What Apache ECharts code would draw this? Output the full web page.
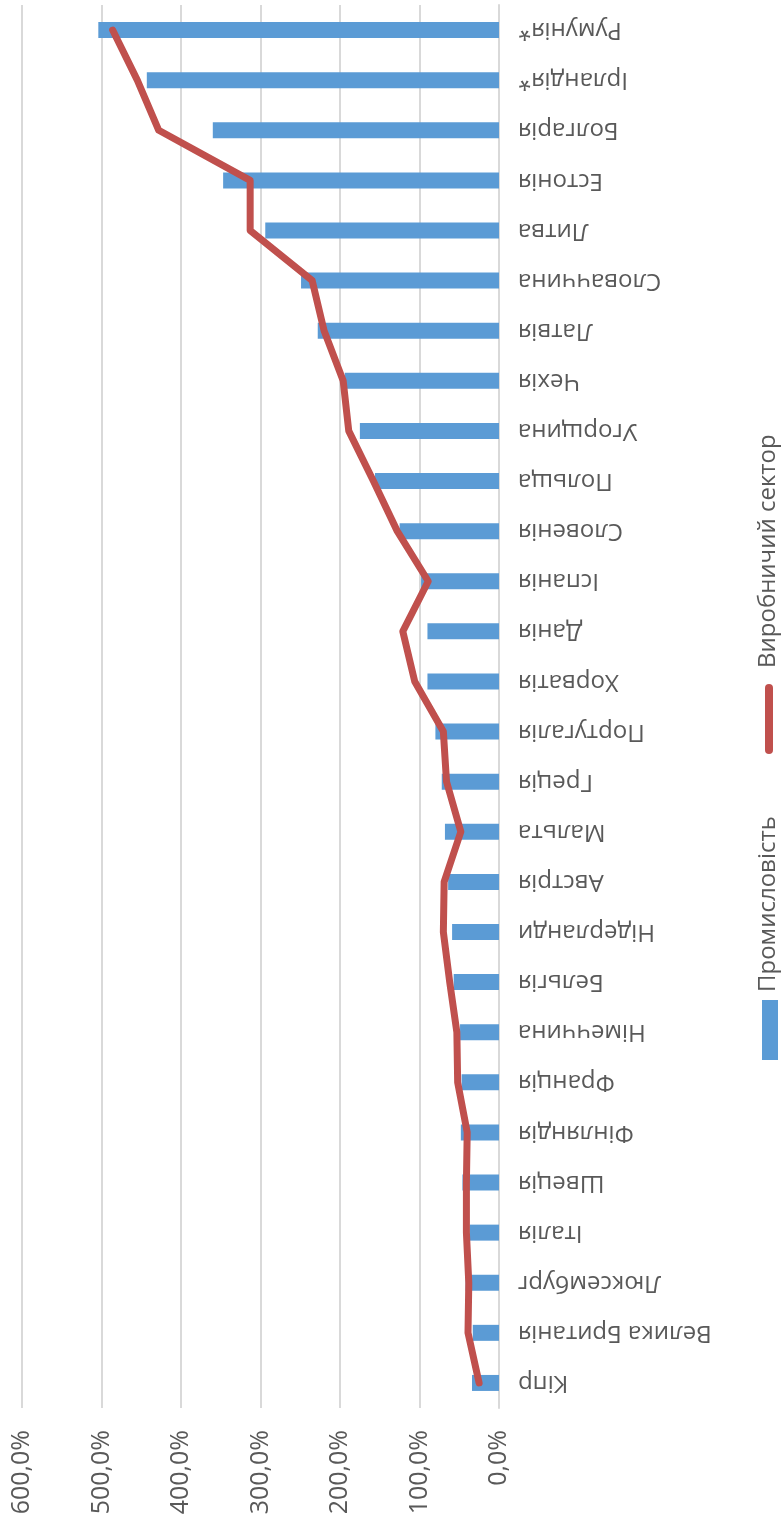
<!DOCTYPE html>
<html>
<head>
<meta charset="utf-8">
<script src="https://cdn.jsdelivr.net/npm/echarts@6/dist/echarts.min.js"></script>
<style>
  html, body { margin: 0; padding: 0; background: #fff; }
  #chart { width: 783px; height: 1528px; }
</style>
</head>
<body>
<div id="chart"></div>
<script>
// categories, top to bottom
const countries = [
  'Румунія*', 'Ірландія*', 'Болгарія', 'Естонія', 'Литва', 'Словаччина', 'Латвія',
  'Чехія', 'Угорщина', 'Польща', 'Словенія', 'Іспанія', 'Данія', 'Хорватія',
  'Португалія', 'Греція', 'Мальта', 'Австрія', 'Нідерланди', 'Бельгія', 'Німеччина',
  'Франція', 'Фінляндія', 'Швеція', 'Італія', 'Люксембург', 'Велика Британія', 'Кіпр'
]
// Промисловість, %
const industry = [
  504, 443, 360, 347, 294, 249, 228,
  194, 175, 156, 125, 98, 90, 90,
  80, 72, 68, 64, 59, 57, 49,
  47, 48, 46, 37, 42, 33, 34
]
// Виробничий сектор, %
const manufacturing = [
  486, 455, 428, 313, 313, 235, 220,
  196, 189, 158, 128, 89, 121, 106,
  70, 66, 48, 69, 70, 62, 53,
  52, 40, 41, 41, 38, 39, 25
]
const valueTicks = [0, 100, 200, 300, 400, 500, 600]

const textColor = '#595959'
const fontFamily = '"Open Sans", "Noto Sans", sans-serif'

const myChart = echarts.init(document.getElementById('chart'))

const option = {
  animation: false,
  textStyle: { fontFamily: fontFamily },
  grid: {
    left: 22,
    right: 284,
    top: 5,
    bottom: 120,
    containLabel: false
  },
  xAxis: {
    type: 'value',
    inverse: true,
    position: 'bottom',
    min: valueTicks[0],
    max: valueTicks[valueTicks.length - 1],
    interval: 100,
    axisLine: { show: false },
    axisTick: { show: false },
    splitLine: { lineStyle: { color: '#D9D9D9', width: 2 } },
    axisLabel: {
      rotate: 90,
      margin: 22,
      fontSize: 25,
      color: textColor,
      fontFamily: fontFamily,
      formatter: function (v) { return v + ',0%' }
    }
  },
  yAxis: {
    type: 'category',
    inverse: true,
    position: 'right',
    data: countries,
    axisLine: { onZero: false, lineStyle: { color: '#D9D9D9', width: 2 } },
    axisTick: { show: false },
    axisLabel: {
      rotate: 180,
      margin: 19,
      fontSize: 24,
      color: textColor,
      fontFamily: fontFamily
    }
  },
  series: [
    {
      name: 'Промисловість',
      type: 'bar',
      data: industry,
      barWidth: 16,
      itemStyle: { color: '#5B9BD5' }
    },
    {
      name: 'Виробничий сектор',
      type: 'line',
      data: manufacturing,
      symbol: 'none',
      lineStyle: { color: '#C0504D', width: 7, cap: 'round', join: 'round' },
      itemStyle: { color: '#C0504D' }
    }
  ],
  // legend drawn by hand because its text is rotated
  graphic: [
    {
      type: 'rect',
      shape: { x: 762, y: 1000, width: 16, height: 60 },
      style: { fill: '#5B9BD5' }
    },
    {
      type: 'text',
      x: 768,
      y: 992,
      rotation: Math.PI / 2,
      style: {
        text: 'Промисловість',
        fill: textColor,
        font: '24px ' + fontFamily,
        textAlign: 'left',
        textVerticalAlign: 'middle'
      }
    },
    {
      type: 'line',
      shape: { x1: 769, y1: 688, x2: 769, y2: 750 },
      style: { stroke: '#C0504D', lineWidth: 8, lineCap: 'round' }
    },
    {
      type: 'text',
      x: 768,
      y: 668,
      rotation: Math.PI / 2,
      style: {
        text: 'Виробничий сектор',
        fill: textColor,
        font: '24px ' + fontFamily,
        textAlign: 'left',
        textVerticalAlign: 'middle'
      }
    }
  ]
}

myChart.setOption(option)
</script>
</body>
</html>
